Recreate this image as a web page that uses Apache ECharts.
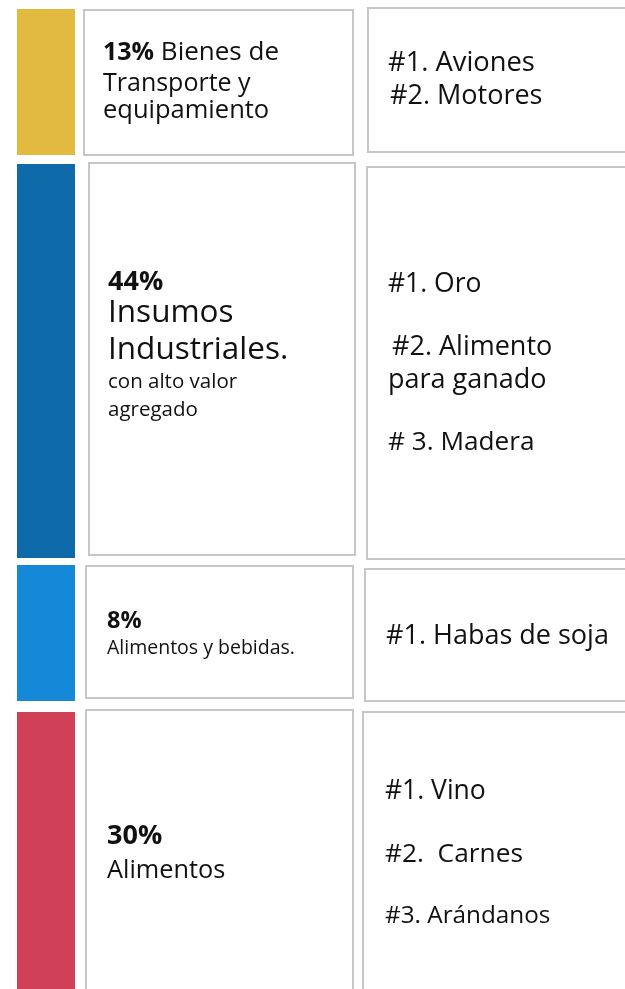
<!DOCTYPE html>
<html>
<head>
<meta charset="utf-8">
<script src="https://cdn.jsdelivr.net/npm/echarts@6/dist/echarts.min.js"></script>
<style>
  html, body { margin: 0; padding: 0; background: #fff; }
  #chart { width: 625px; height: 989px; }
</style>
</head>
<body>
<div id="chart"></div>
<script>
// datos: participación por sector y principales productos
const shares = [13, 44, 8, 30];
const sectorLines = [
  ['Bienes de', 'Transporte y', 'equipamiento'],
  ['Insumos', 'Industriales.'],
  ['Alimentos y bebidas.'],
  ['Alimentos']
];
const noteLines = [[], ['con alto valor', 'agregado'], [], []];
const products = [
  ['#1. Aviones', '#2. Motores'],
  ['#1. Oro', '#2. Alimento', 'para ganado', '# 3. Madera'],
  ['#1. Habas de soja'],
  ['#1. Vino', '#2.  Carnes', '#3. Arándanos']
];
const sectorColors = ['#E2BA40', '#0E6AA8', '#1589D8', '#D04057'];

// layout (unidades del eje = px)
const barX = [17, 75];
const barY = [[9, 155], [164, 558], [565, 701], [712, 989]];
const leftBox = [[84, 10, 353, 155], [89, 163, 355, 555], [86, 566, 353, 698], [86, 710, 353, 995]];
const rightBox = [[368, 8, 632, 152], [367, 167, 632, 559], [365, 569, 632, 701], [363, 712, 632, 995]];
const leftX = [103, 108, 107, 107];
const leftY = [[53, 84, 111], [282, 313, 350, 382, 410], [621, 648], [836, 871]];
const rightX = [[388, 390], [388, 392, 388, 388], [386], [385, 385, 385]];
const rightY = [[63, 96], [284, 347, 380, 443], [636], [791, 855, 916]];
const pctSize = [25, 27, 23.5, 27];
const labelSize = [[26, 25, 25.5], [31.5, 31.5], [19.5], [25.3]];
const noteSize = 20.5;
const prodSize = [[27.3, 27], [26.5, 27, 27, 26.2], [27], [26.5, 26.3, 24.3]];

const FONT = '"Open Sans", sans-serif';
const myChart = echarts.init(document.getElementById('chart'));

function rectOf(api, b) {
  const p0 = api.coord([b[0], b[1]]);
  const p1 = api.coord([b[2], b[3]]);
  return { x: p0[0], y: p0[1], width: p1[0] - p0[0], height: p1[1] - p0[1] };
}

myChart.setOption({
  animation: false,
  grid: { left: 0, right: 0, top: 0, bottom: 0 },
  xAxis: { type: 'value', min: 0, max: 625, show: false },
  yAxis: { type: 'value', min: 0, max: 989, inverse: true, show: false },
  series: [{
    type: 'custom',
    coordinateSystem: 'cartesian2d',
    data: shares.map((s, i) => [i, s]),
    renderItem: function (params, api) {
      const i = api.value(0);
      const pct = api.value(1) + '%';
      const kids = [];
      // barra de color
      kids.push({
        type: 'rect',
        shape: rectOf(api, [barX[0], barY[i][0], barX[1], barY[i][1]]),
        style: { fill: sectorColors[i] }
      });
      // cajas
      [leftBox[i], rightBox[i]].forEach(b => {
        kids.push({
          type: 'rect',
          shape: rectOf(api, b),
          style: { fill: '#fff', stroke: '#C6C6C6', lineWidth: 2 }
        });
      });
      // texto izquierdo
      let lines = [];
      if (i === 0) {
        lines.push({ t: pct + ' ' + sectorLines[i][0], s: labelSize[i][0], bold: pct.length });
        sectorLines[i].slice(1).forEach((l, k) => lines.push({ t: l, s: labelSize[i][k + 1] }));
      } else {
        lines.push({ t: pct, s: pctSize[i], bold: -1 });
        sectorLines[i].forEach((l, k) => lines.push({ t: l, s: labelSize[i][k] }));
      }
      noteLines[i].forEach(l => lines.push({ t: l, s: noteSize }));
      lines.forEach((ln, k) => {
        const p = api.coord([leftX[i], leftY[i][k]]);
        if (ln.bold === -1) {
          kids.push({ type: 'text', x: p[0], y: p[1],
            style: { text: ln.t, fill: '#111', font: 'bold ' + ln.s + 'px ' + FONT, verticalAlign: 'middle' } });
        } else if (ln.bold) {
          kids.push({ type: 'text', x: p[0], y: p[1],
            style: {
              text: '{b|' + ln.t.slice(0, ln.bold) + '}{r|' + ln.t.slice(ln.bold) + '}',
              verticalAlign: 'middle',
              rich: {
                b: { font: 'bold ' + pctSize[i] + 'px ' + FONT, fill: '#111' },
                r: { font: ln.s + 'px ' + FONT, fill: '#111' }
              }
            } });
        } else {
          kids.push({ type: 'text', x: p[0], y: p[1],
            style: { text: ln.t, fill: '#111', font: ln.s + 'px ' + FONT, verticalAlign: 'middle' } });
        }
      });
      // productos
      products[i].forEach((l, k) => {
        const p = api.coord([rightX[i][k], rightY[i][k]]);
        kids.push({ type: 'text', x: p[0], y: p[1],
          style: { text: l, fill: '#111', font: prodSize[i][k] + 'px ' + FONT, verticalAlign: 'middle' } });
      });
      return { type: 'group', children: kids };
    }
  }]
});
</script>
</body>
</html>
